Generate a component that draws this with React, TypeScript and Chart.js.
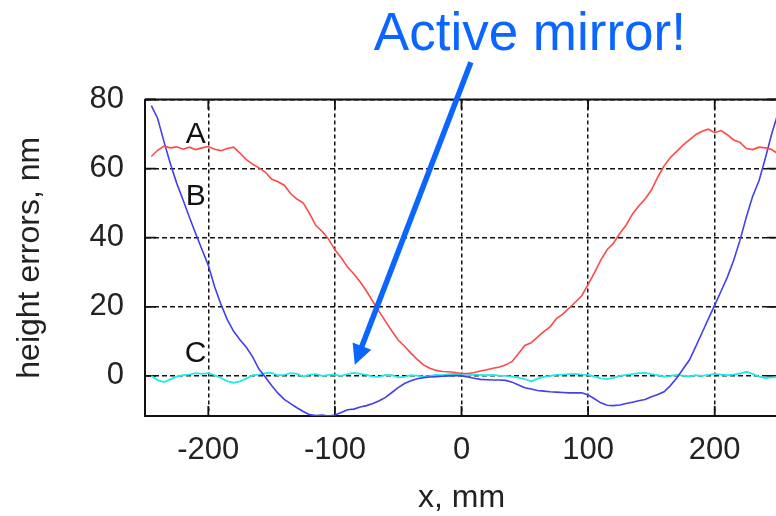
import React, { useEffect, useRef } from "react";
import { Chart, registerables } from "chart.js";

Chart.register(...registerables);

// x positions along the mirror, mm
const X_MM = [
  -245, -240, -235, -230, -225, -220, -215, -210, -205, -200,
  -195, -190, -185, -180, -175, -170, -165, -160, -155, -150,
  -145, -140, -135, -130, -125, -120, -115, -110, -105, -100,
  -95, -90, -85, -80, -75, -70, -65, -60, -55, -50,
  -45, -40, -35, -30, -25, -20, -15, -10, -5, 0,
  5, 10, 15, 20, 25, 30, 35, 40, 45, 50,
  55, 60, 65, 70, 75, 80, 85, 90, 95, 100,
  105, 110, 115, 120, 125, 130, 135, 140, 145, 150,
  155, 160, 165, 170, 175, 180, 185, 190, 195, 200,
  205, 210, 215, 220, 225, 230, 235, 240, 245, 250,
];

// Curve A (red), nm
const CURVE_A = [
  63.5, 65.3, 66.5, 66.0, 66.3, 65.6, 66.2, 65.5, 66.0, 66.4,
  65.6, 65.2, 65.8, 66.2, 64.5, 62.6, 61.3, 60.2, 59.0, 57.0,
  56.2, 55.2, 52.8, 51.2, 50.0, 47.0, 43.5, 41.8, 39.6, 36.5,
  34.2, 31.5, 29.5, 27.2, 24.5, 21.5, 18.6, 15.8, 13.0, 10.4,
  8.6, 6.6, 4.8, 3.2, 2.2, 1.6, 1.3, 1.2, 1.0, 0.7,
  0.7, 1.0, 1.4, 1.8, 2.2, 2.6, 3.2, 4.2, 6.5, 8.8,
  9.6, 11.2, 12.8, 14.2, 16.6, 17.9, 19.6, 21.4, 23.2, 26.5,
  29.8, 33.5, 36.5, 38.4, 41.2, 43.6, 46.8, 49.2, 51.2, 53.8,
  57.5, 60.8, 63.2, 65.0, 66.8, 68.3, 69.8, 70.8, 71.4, 70.4,
  71.0, 69.8, 68.3, 67.6, 65.8, 65.5, 66.2, 66.0, 65.5, 64.3,
];

// Curve B (blue), nm
const CURVE_B = [
  78.2, 74.5, 67.8, 61.5, 55.8, 51.0, 46.0, 41.2, 36.6, 32.0,
  25.8, 20.7, 16.3, 12.9, 10.5, 8.3, 5.5, 2.0, -0.3, -2.8,
  -5.0, -6.8, -8.0, -9.2, -10.3, -11.2, -11.5, -11.3, -11.6, -11.3,
  -10.6, -9.8, -9.6, -9.0, -8.6, -8.0, -7.2, -6.2, -4.8, -3.4,
  -2.2, -1.4, -0.8, -0.5, -0.3, -0.2, -0.1, 0.0, 0.1, 0.0,
  -0.3, -0.7, -1.0, -1.1, -1.2, -1.2, -1.3, -1.8, -2.6, -3.4,
  -3.8, -4.2, -4.4, -4.6, -4.7, -4.8, -4.9, -4.9, -4.9, -5.5,
  -6.6, -7.8, -8.5, -8.6, -8.4, -8.0, -7.6, -7.2, -6.8, -6.0,
  -5.4, -4.6, -2.8, -0.6, 2.0, 4.6, 8.5, 12.5, 16.5, 20.5,
  24.5, 28.6, 33.5, 39.3, 46.0, 52.0, 56.5, 63.0, 70.0, 76.0,
];

// Curve C (cyan, active mirror), nm
const CURVE_C = [
  0.0, -1.2, -1.8, -1.0, -0.2, 0.2, 0.4, 0.8, 0.6, 0.8,
  0.2, -0.6, -1.5, -2.0, -1.6, -0.8, 0.2, 0.4, 0.8, 0.9,
  0.2, 0.3, 0.8, 0.6, -0.2, 0.4, 0.5, 0.0, 0.3, 0.4,
  0.0, 0.5, 0.9, 0.6, 0.3, -0.2, -0.3, 0.3, 0.2, -0.4,
  -0.3, 0.2, 0.1, -0.2, 0.0, 0.3, 0.2, 0.5, 0.6, 0.3,
  0.2, 0.4, 0.3, 0.2, 0.3, 0.1, 0.0, -0.2, -0.5, -0.9,
  -1.6, -0.8, -0.3, 0.0, 0.3, 0.4, 0.5, 0.6, 0.4, 0.3,
  -0.2, -0.7, -0.9, -0.6, 0.0, 0.3, 0.5, 0.8, 0.9, 0.5,
  0.2, -0.2, 0.0, 0.3, 0.1, -0.1, 0.2, 0.0, 0.3, 0.6,
  0.4, 0.2, 0.4, 0.7, 1.2, 0.6, -0.2, -0.6, -0.4, -0.3,
];

const X_TICKS = [-200, -100, 0, 100, 200];
const Y_TICKS = [0, 20, 40, 60, 80];

const CURVE_LABELS = [
  { text: "A", x: -210, y: 69.7 },
  { text: "B", x: -210, y: 51.9 },
  { text: "C", x: -210, y: 6.4 },
];

const FONT = '"Liberation Sans", Arial, sans-serif';
const BLUE_NOTE = "#0a66ff";

const overlayPlugin = {
  id: "overlay",
  beforeDatasetsDraw(chart: any) {
    const { ctx, chartArea, scales } = chart;
    const { left, right, top, bottom } = chartArea;
    ctx.save();
    ctx.strokeStyle = "#111";
    ctx.lineWidth = 2;
    ctx.setLineDash([]);
    ctx.beginPath();
    ctx.moveTo(left, top);
    ctx.lineTo(right, top);
    ctx.lineTo(right, bottom);
    ctx.stroke();
    ctx.lineWidth = 1.8;
    ctx.beginPath();
    X_TICKS.forEach((v) => {
      const px = scales.x.getPixelForValue(v);
      ctx.moveTo(px, bottom);
      ctx.lineTo(px, bottom - 10);
      ctx.moveTo(px, top);
      ctx.lineTo(px, top + 10);
    });
    Y_TICKS.forEach((v) => {
      const py = scales.y.getPixelForValue(v);
      ctx.moveTo(left, py);
      ctx.lineTo(left + 11, py);
      ctx.moveTo(right, py);
      ctx.lineTo(right - 11, py);
    });
    ctx.stroke();
    ctx.restore();
  },
  afterDraw(chart: any) {
    const { ctx, scales } = chart;
    const xs = scales.x;
    const ys = scales.y;
    ctx.save();
    ctx.fillStyle = "#111";
    ctx.font = `30px ${FONT}`;
    ctx.textAlign = "center";
    ctx.textBaseline = "middle";
    CURVE_LABELS.forEach((l) => {
      ctx.fillText(l.text, xs.getPixelForValue(l.x), ys.getPixelForValue(l.y));
    });
    const x0 = xs.getPixelForValue(7.4);
    const y0 = ys.getPixelForValue(90.8);
    const x1 = xs.getPixelForValue(-84.3);
    const y1 = ys.getPixelForValue(3.2);
    const dx = x1 - x0;
    const dy = y1 - y0;
    const len = Math.hypot(dx, dy);
    const ux = dx / len;
    const uy = dy / len;
    const headLen = 20;
    const headHalf = 10;
    const bx = x1 - ux * headLen;
    const by = y1 - uy * headLen;
    ctx.strokeStyle = BLUE_NOTE;
    ctx.fillStyle = BLUE_NOTE;
    ctx.lineWidth = 5.5;
    ctx.lineCap = "butt";
    ctx.beginPath();
    ctx.moveTo(x0, y0);
    ctx.lineTo(bx + ux * 2, by + uy * 2);
    ctx.stroke();
    ctx.beginPath();
    ctx.moveTo(x1, y1);
    ctx.lineTo(bx - uy * headHalf, by + ux * headHalf);
    ctx.lineTo(bx + uy * headHalf, by - ux * headHalf);
    ctx.closePath();
    ctx.fill();
    ctx.font = `53px ${FONT}`;
    ctx.textAlign = "center";
    ctx.textBaseline = "alphabetic";
    ctx.fillText("Active mirror!", xs.getPixelForValue(54), ys.getPixelForValue(94.2));
    ctx.restore();
  },
};

export default function App() {
  const canvasRef = useRef<HTMLCanvasElement | null>(null);

  useEffect(() => {
    const canvas = canvasRef.current;
    if (!canvas) return;
    const mk = (vals: number[]) => X_MM.map((x, i) => ({ x, y: vals[i] }));
    const chart = new Chart(canvas, {
      type: "line",
      data: {
        datasets: [
          { label: "A", data: mk(CURVE_A), borderColor: "#ff4848", borderWidth: 1.6, pointRadius: 0, tension: 0 },
          { label: "B", data: mk(CURVE_B), borderColor: "#4040ee", borderWidth: 1.6, pointRadius: 0, tension: 0 },
          { label: "C", data: mk(CURVE_C), borderColor: "#22eaea", borderWidth: 1.8, pointRadius: 0, tension: 0 },
        ],
      },
      options: {
        responsive: false,
        animation: false,
        events: [],
        layout: { padding: { left: 0, top: 99.5, right: 12, bottom: 0 } },
        plugins: { legend: { display: false }, tooltip: { enabled: false }, title: { display: false } },
        scales: {
          x: {
            type: "linear",
            min: -250,
            max: 250,
            afterBuildTicks: (ax: any) => {
              ax.ticks = X_TICKS.map((v) => ({ value: v }));
            },
            afterFit: (ax: any) => {
              ax.height = 100;
            },
            grid: { color: "#111", lineWidth: 1.5, drawTicks: false },
            border: { display: true, color: "#111", width: 2, dash: [4, 3] },
            ticks: { padding: 16, autoSkip: false, maxRotation: 0, color: "#222", font: { family: FONT, size: 31 } },
            title: {
              display: true,
              text: "x, mm",
              color: "#222",
              font: { family: FONT, size: 32, lineHeight: 1.1 },
              padding: { top: 0, bottom: 0 },
            },
          },
          y: {
            type: "linear",
            min: -11.6,
            max: 80,
            afterBuildTicks: (ax: any) => {
              ax.ticks = Y_TICKS.map((v) => ({ value: v }));
            },
            afterFit: (ax: any) => {
              ax.width = 145;
            },
            grid: { color: "#111", lineWidth: 1.5, drawTicks: false },
            border: { display: true, color: "#111", width: 2, dash: [5, 3] },
            ticks: { padding: 21, color: "#222", font: { family: FONT, size: 31 } },
            title: {
              display: true,
              text: "height errors, nm",
              color: "#222",
              font: { family: FONT, size: 32 },
              padding: { top: 11, bottom: 0 },
            },
          },
        },
      },
      plugins: [overlayPlugin],
    });
    return () => chart.destroy();
  }, []);

  return (
    <div style={{ position: "fixed", left: 0, top: 0, width: 776, height: 516, overflow: "hidden", background: "#fff" }}>
      <canvas ref={canvasRef} width={790} height={516} style={{ display: "block" }} />
    </div>
  );
}
